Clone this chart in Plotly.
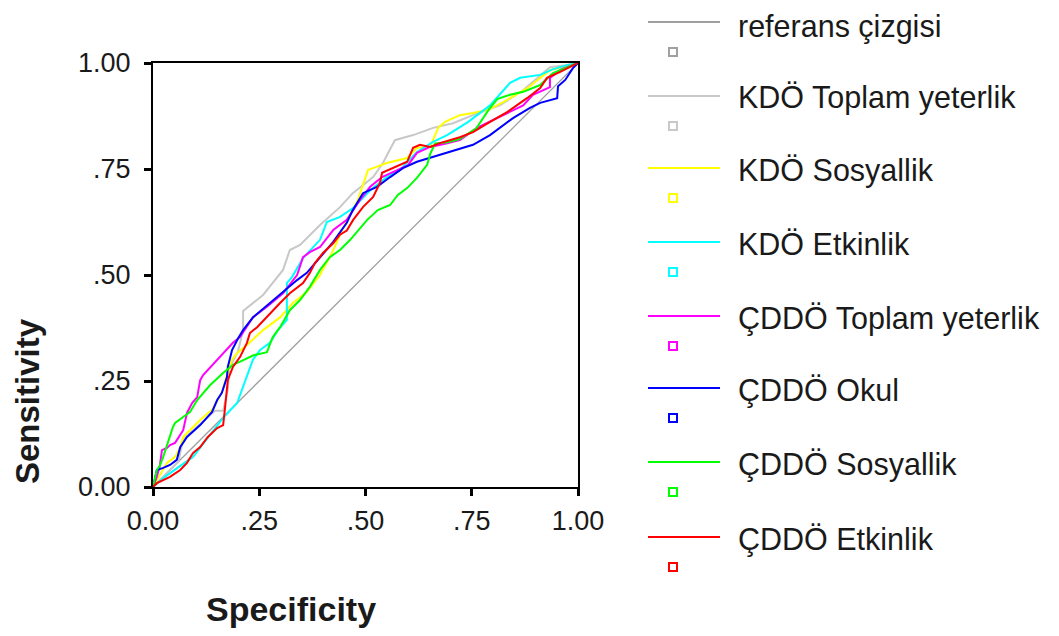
import plotly.graph_objects as go

# ---------------- data ----------------
series_names = ["referans çizgisi", "KDÖ Toplam yeterlik", "KDÖ Sosyallik", "KDÖ Etkinlik",
                "ÇDDÖ Toplam yeterlik", "ÇDDÖ Okul", "ÇDDÖ Sosyallik", "ÇDDÖ Etkinlik"]
series_colors = ["#a0a0a0", "#c8c8c8", "#ffff00", "#00ffff",
                 "#ff00ff", "#0000ff", "#00ff00", "#ff0000"]

x_ticks = [0, 0.25, 0.5, 0.75, 1.0]
x_ticklabels = ["0.00", ".25", ".50", ".75", "1.00"]
y_ticks = [0, 0.25, 0.5, 0.75, 1.0]
y_ticklabels = ["0.00", ".25", ".50", ".75", "1.00"]

ref_x = [0, 1]
ref_y = [0, 1]

kdo_toplam_x = [0, 0.02, 0.06, 0.07, 0.09, 0.146, 0.165, 0.176, 0.18, 0.2, 0.212, 0.212, 0.259, 0.306,
                0.322, 0.346, 0.393, 0.44, 0.47, 0.518, 0.541, 0.569, 0.612, 0.659, 0.706, 0.753,
                0.816, 0.87, 0.934, 0.97, 1]
kdo_toplam_y = [0, 0.02, 0.06, 0.11, 0.13, 0.18, 0.18, 0.23, 0.28, 0.32, 0.37, 0.415, 0.453, 0.512,
                0.559, 0.571, 0.618, 0.66, 0.693, 0.731, 0.764, 0.818, 0.83, 0.847, 0.858, 0.877,
                0.90, 0.935, 0.99, 0.995, 1]

kdo_sos_x = [0, 0.012, 0.033, 0.052, 0.064, 0.071, 0.111, 0.139, 0.162, 0.174, 0.186, 0.198, 0.221,
             0.259, 0.299, 0.329, 0.362, 0.393, 0.42, 0.44, 0.456, 0.482, 0.506, 0.518, 0.55, 0.598,
             0.621, 0.652, 0.671, 0.687, 0.722, 0.753, 0.79, 0.824, 0.88, 0.934, 1]
kdo_sos_y = [0, 0.02, 0.057, 0.071, 0.094, 0.118, 0.158, 0.182, 0.222, 0.264, 0.30, 0.316, 0.335,
             0.37, 0.40, 0.434, 0.46, 0.50, 0.55, 0.594, 0.63, 0.677, 0.748, 0.752, 0.764, 0.776,
             0.80, 0.802, 0.847, 0.861, 0.877, 0.882, 0.89, 0.908, 0.94, 0.983, 1]

kdo_etk_x = [0, 0.028, 0.094, 0.165, 0.198, 0.221, 0.235, 0.252, 0.275, 0.294, 0.315, 0.315, 0.327,
             0.353, 0.393, 0.409, 0.44, 0.471, 0.511, 0.55, 0.581, 0.621, 0.659, 0.692, 0.74, 0.793,
             0.84, 0.864, 0.911, 0.94, 0.974, 1]
kdo_etk_y = [0, 0.024, 0.071, 0.163, 0.198, 0.259, 0.30, 0.323, 0.34, 0.37, 0.394, 0.481, 0.495,
             0.54, 0.583, 0.625, 0.637, 0.658, 0.70, 0.731, 0.748, 0.79, 0.814, 0.83, 0.86, 0.90,
             0.953, 0.965, 0.972, 0.985, 0.995, 1]

cddo_toplam_x = [0, 0.005, 0.009, 0.016, 0.021, 0.033, 0.04, 0.052, 0.071, 0.08, 0.092, 0.104, 0.111,
                 0.118, 0.134, 0.158, 0.188, 0.205, 0.235, 0.268, 0.306, 0.339, 0.353, 0.369, 0.393,
                 0.424, 0.456, 0.487, 0.511, 0.539, 0.574, 0.60, 0.621, 0.652, 0.69, 0.722, 0.762,
                 0.82, 0.871, 0.894, 0.934, 0.934, 0.96, 1]
cddo_toplam_y = [0, 0.012, 0.024, 0.05, 0.087, 0.092, 0.099, 0.104, 0.134, 0.175, 0.198, 0.212, 0.252,
                 0.264, 0.281, 0.307, 0.34, 0.354, 0.40, 0.425, 0.457, 0.50, 0.542, 0.554, 0.566,
                 0.606, 0.63, 0.677, 0.708, 0.731, 0.748, 0.759, 0.788, 0.802, 0.81, 0.818, 0.847,
                 0.875, 0.90, 0.925, 0.943, 0.965, 0.985, 1]

cddo_okul_x = [0, 0.005, 0.009, 0.024, 0.04, 0.056, 0.064, 0.08, 0.111, 0.139, 0.151, 0.162, 0.174,
               0.176, 0.181, 0.186, 0.20, 0.212, 0.235, 0.275, 0.306, 0.339, 0.362, 0.393, 0.424,
               0.456, 0.47, 0.494, 0.527, 0.558, 0.588, 0.621, 0.659, 0.699, 0.753, 0.793, 0.847,
               0.887, 0.911, 0.951, 0.953, 0.97, 0.988, 1]
cddo_okul_y = [0, 0.02, 0.04, 0.045, 0.052, 0.064, 0.094, 0.118, 0.146, 0.177, 0.205, 0.222, 0.259,
               0.283, 0.307, 0.323, 0.35, 0.37, 0.40, 0.434, 0.46, 0.488, 0.505, 0.542, 0.578,
               0.623, 0.653, 0.693, 0.708, 0.731, 0.752, 0.767, 0.778, 0.79, 0.807, 0.83, 0.87,
               0.894, 0.906, 0.917, 0.945, 0.96, 0.988, 1]

cddo_sos_x = [0, 0.005, 0.009, 0.016, 0.024, 0.047, 0.052, 0.071, 0.087, 0.104, 0.134, 0.165, 0.188,
              0.21, 0.235, 0.268, 0.282, 0.299, 0.322, 0.346, 0.369, 0.393, 0.416, 0.44, 0.464,
              0.504, 0.529, 0.558, 0.576, 0.598, 0.621, 0.645, 0.652, 0.664, 0.692, 0.72, 0.76,
              0.79, 0.81, 0.84, 0.871, 0.911, 0.941, 1]
cddo_sos_y = [0, 0.02, 0.04, 0.05, 0.071, 0.142, 0.151, 0.165, 0.177, 0.205, 0.24, 0.269, 0.288,
              0.298, 0.31, 0.318, 0.354, 0.377, 0.417, 0.441, 0.472, 0.512, 0.542, 0.559, 0.583,
              0.63, 0.653, 0.665, 0.689, 0.705, 0.729, 0.76, 0.785, 0.81, 0.813, 0.82, 0.845,
              0.89, 0.915, 0.925, 0.932, 0.948, 0.976, 1]

cddo_etk_x = [0, 0.009, 0.04, 0.064, 0.08, 0.094, 0.111, 0.129, 0.151, 0.165, 0.169, 0.176, 0.188,
              0.205, 0.221, 0.228, 0.245, 0.275, 0.299, 0.322, 0.353, 0.369, 0.381, 0.40, 0.424,
              0.44, 0.456, 0.471, 0.494, 0.518, 0.534, 0.539, 0.565, 0.598, 0.612, 0.628, 0.652,
              0.675, 0.722, 0.753, 0.793, 0.833, 0.88, 0.911, 0.927, 0.958, 1]
cddo_etk_y = [0, 0.009, 0.024, 0.04, 0.057, 0.08, 0.094, 0.118, 0.139, 0.146, 0.182, 0.252, 0.283,
              0.307, 0.34, 0.363, 0.377, 0.41, 0.434, 0.457, 0.481, 0.505, 0.528, 0.552, 0.575,
              0.595, 0.605, 0.63, 0.66, 0.684, 0.717, 0.741, 0.752, 0.767, 0.80, 0.807, 0.802,
              0.811, 0.825, 0.837, 0.861, 0.884, 0.917, 0.941, 0.965, 0.979, 1]

series_x = [ref_x, kdo_toplam_x, kdo_sos_x, kdo_etk_x, cddo_toplam_x, cddo_okul_x, cddo_sos_x, cddo_etk_x]
series_y = [ref_y, kdo_toplam_y, kdo_sos_y, kdo_etk_y, cddo_toplam_y, cddo_okul_y, cddo_sos_y, cddo_etk_y]

# ---------------- figure ----------------
OFF = 8                       # page body margin
W, H = 1059 - OFF, 636 - OFF
# plot area in page pixels
PL, PR, PT, PB = 153, 578, 63, 487
L, R, T, B = PL - OFF, PR - OFF, PT - OFF, PB - OFF


def xp(px):
    """page pixel x -> paper coordinate"""
    return (px - PL) / (PR - PL)


def yp(py):
    """page pixel y -> paper coordinate"""
    return (PB - py) / (PB - PT)


FONT = "Liberation Sans, Arial, sans-serif"

fig = go.Figure()
for i, (name, col) in enumerate(zip(series_names, series_colors)):
    fig.add_trace(go.Scatter(
        x=series_x[i], y=series_y[i], mode="lines", name=name,
        line=dict(color=col, width=1.3 if i == 0 else 2),
        showlegend=False, hoverinfo="skip"))

axis_common = dict(range=[0, 1], showgrid=False, zeroline=False, showline=True,
                   linecolor="black", linewidth=2, mirror=True, ticks="outside",
                   ticklen=7, tickwidth=3, tickcolor="black",
                   tickfont=dict(family=FONT, size=27, color="#1a1a1a"))

fig.update_layout(
    width=W, height=H,
    margin=dict(l=L, r=W - R, t=T, b=H - B, pad=0),
    paper_bgcolor="white", plot_bgcolor="white",
    xaxis=dict(**axis_common, tickvals=x_ticks, ticktext=x_ticklabels, ticklabelstandoff=2),
    yaxis=dict(**axis_common, tickvals=y_ticks, ticktext=y_ticklabels, ticklabelstandoff=8),
    showlegend=False,
)

# axis titles
fig.add_annotation(x=xp(291), y=yp(609), xref="paper", yref="paper", text="<b>Specificity</b>",
                   showarrow=False, xanchor="center", yanchor="middle",
                   font=dict(family=FONT, size=34, color="#1a1a1a"))
fig.add_annotation(x=xp(27), y=yp(401), xref="paper", yref="paper", text="<b>Sensitivity</b>",
                   showarrow=False, xanchor="center", yanchor="middle", textangle=-90,
                   font=dict(family=FONT, size=33, color="#1a1a1a"))

# custom legend (line sample, small square marker below, label)
legend_line_y = [22, 96, 168, 242, 316, 388, 462, 537]
legend_text_dy = [4, 2, 2, 2, 2, 2, 2, 2]
for i, (name, col) in enumerate(zip(series_names, series_colors)):
    ly = legend_line_y[i]
    my = ly + 30
    fig.add_shape(type="line", xref="paper", yref="paper",
                  x0=xp(648), x1=xp(720), y0=yp(ly), y1=yp(ly),
                  line=dict(color=col, width=2))
    fig.add_shape(type="rect", xref="paper", yref="paper",
                  x0=xp(669), x1=xp(677), y0=yp(my + 4), y1=yp(my - 4),
                  line=dict(color=col, width=2), fillcolor="rgba(0,0,0,0)")
    fig.add_annotation(x=xp(737), y=yp(ly + legend_text_dy[i]), xref="paper", yref="paper",
                       text=name, showarrow=False, xanchor="left", yanchor="middle",
                       borderpad=0,
                       font=dict(family=FONT, size=30.5, color="#1a1a1a"))

fig.write_html("out.html")
